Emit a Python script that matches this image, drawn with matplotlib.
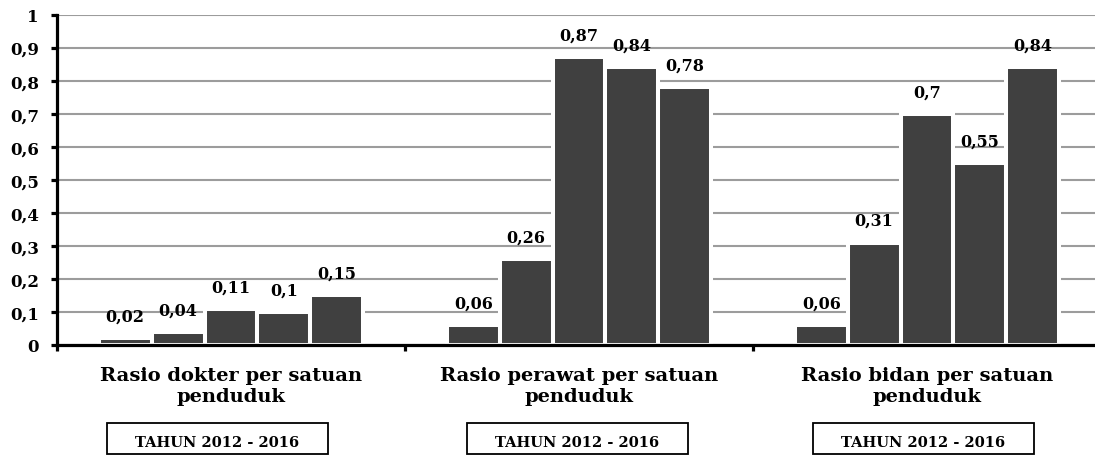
import matplotlib
matplotlib.use("Agg")
import matplotlib.pyplot as plt
from matplotlib.patches import Rectangle
from matplotlib.ticker import FuncFormatter
from matplotlib.transforms import blended_transform_factory

# Data: ratios per population unit, years 2012-2016
categories = ["Rasio dokter per satuan\npenduduk",
              "Rasio perawat per satuan\npenduduk",
              "Rasio bidan per satuan\npenduduk"]
years = [2012, 2013, 2014, 2015, 2016]
dokter = [0.02, 0.04, 0.11, 0.10, 0.15]
perawat = [0.06, 0.26, 0.87, 0.84, 0.78]
bidan = [0.06, 0.31, 0.70, 0.55, 0.84]
value_labels = [["0,02", "0,04", "0,11", "0,1", "0,15"],
                ["0,06", "0,26", "0,87", "0,84", "0,78"],
                ["0,06", "0,31", "0,7", "0,55", "0,84"]]
period_label = "TAHUN 2012 - 2016"

series = [dokter, perawat, bidan]

W, H = 1095, 456
fig = plt.figure(figsize=(W / 100, H / 100), dpi=100)
ax = fig.add_axes([57 / W, (H - 346) / H, 1044 / W, (346 - 15.5) / H])

font = "DejaVu Serif"
bar_color = "#404040"
step = 0.152

for g, vals in enumerate(series):
    for i, v in enumerate(vals):
        x = g + (i - 2) * step
        ax.bar(x, v, width=step, color=bar_color, edgecolor="white",
               linewidth=2.9, zorder=3)
        ax.annotate(value_labels[g][i], (x, v), xytext=(0, 22),
                    textcoords="offset pixels", ha="center", va="center",
                    fontsize=11.5, fontweight="bold", family=font, zorder=5)

ax.set_xlim(-0.5, 2.5)
ax.set_ylim(0, 1)
ax.set_yticks([i / 10 for i in range(11)])
ax.yaxis.set_major_formatter(FuncFormatter(
    lambda v, p: "0" if v == 0 else ("1" if abs(v - 1) < 1e-9 else f"{v:.1f}".replace(".", ","))))
ax.set_xticks([-0.5, 0.5, 1.5, 2.5])
ax.set_xticklabels([])

ax.grid(axis="y", color="#9c9c9c", linewidth=1.5, zorder=0)
ax.set_axisbelow(True)
for s in ["top", "right"]:
    ax.spines[s].set_visible(False)
for s in ["left", "bottom"]:
    ax.spines[s].set_linewidth(2.3)
    ax.spines[s].set_color("black")
    ax.spines[s].set_zorder(4)

ax.tick_params(axis="y", length=4, width=2.3, pad=9, labelsize=12)
ax.tick_params(axis="x", length=4, width=2.3)
for lbl in ax.get_yticklabels():
    lbl.set_fontfamily(font)
    lbl.set_fontweight("bold")

# Category captions under each group
cap_tr = blended_transform_factory(ax.transData, fig.transFigure)
for g, name in enumerate(categories):
    ax.text(g, (H - 386.5) / H, name, transform=cap_tr,
            ha="center", va="center", multialignment="center", linespacing=1.2,
            fontsize=14, fontweight="bold", family=font)

# Period boxes
box_centers = [217.5, 577, 923]
box_w, box_top, box_bot = 221, 424, 455
for cx in box_centers:
    fig.patches.append(Rectangle(((cx - box_w / 2) / W, (H - box_bot) / H),
                                 box_w / W, (box_bot - box_top) / H,
                                 transform=fig.transFigure, fill=False,
                                 edgecolor="black", linewidth=1.3))
    fig.text(cx / W, (H - 443) / H, period_label, ha="center", va="center",
             fontsize=10.5, fontweight="bold", family=font)

fig.savefig("out.png", dpi=100)
